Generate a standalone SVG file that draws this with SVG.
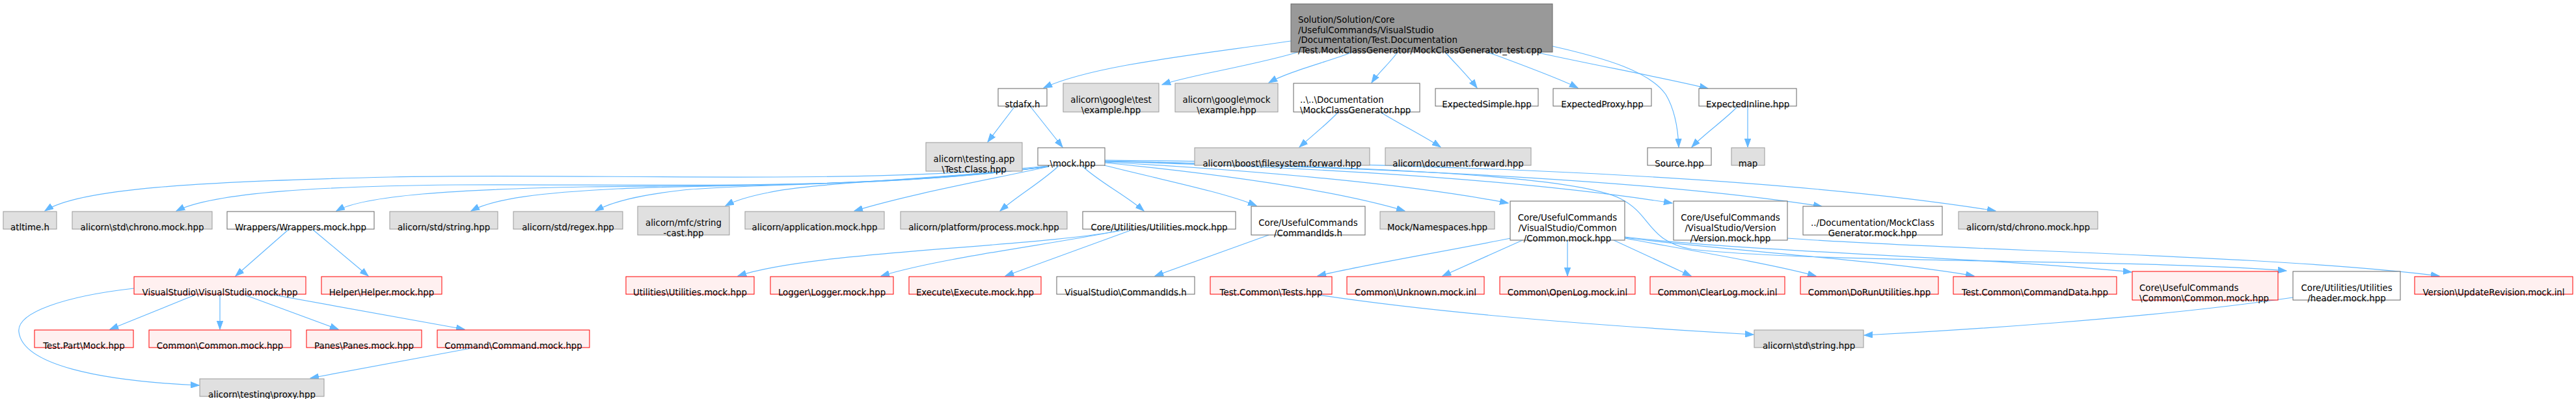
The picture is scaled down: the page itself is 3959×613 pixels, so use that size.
<svg xmlns="http://www.w3.org/2000/svg" width="3959" height="613" viewBox="0 0 3959 613">
<style>
.w rect{fill:#ffffff;stroke:#666666;stroke-width:1}
.g rect{fill:#e0e0e0;stroke:#999999;stroke-width:1}
.r rect{fill:#fff0f0;stroke:#ff0000;stroke-width:1}
.k rect{fill:#999999;stroke:#666666;stroke-width:1}
text{font-family:"DejaVu Sans","Liberation Sans",sans-serif;font-size:13.33px;fill:#000000}
.m text{text-anchor:middle}
.l text{text-anchor:start}
#edges path{fill:none;stroke:#63b8ff;stroke-width:1.2;marker-end:url(#ah)}
</style>
<defs>
<marker id="ah" markerWidth="14" markerHeight="10" refX="13" refY="5" orient="auto" markerUnits="userSpaceOnUse">
<path d="M0,0.3 L13,5 L0,9.7 z" fill="#63b8ff" stroke="#63b8ff" stroke-width="1"/>
</marker>
</defs>
<rect width="3959" height="613" fill="#ffffff"/>
<g id="edges">
<path d="M1984,63 C1840,84 1680,100 1604,135"/>
<path d="M1995,80 C1930,100 1830,115 1786,130"/>
<path d="M2079,80 C2040,95 1980,110 1950,127"/>
<path d="M2148,80 C2135,98 2118,112 2108,127"/>
<path d="M2221,80 C2237,98 2257,118 2270,135"/>
<path d="M2286,80 C2340,100 2395,120 2425,135"/>
<path d="M2364,81 C2450,100 2560,120 2625,136"/>
<path d="M2386,71 C2470,90 2535,110 2560,145 C2575,170 2579,200 2580,226"/>
<path d="M2671,163 C2650,185 2620,205 2600,226"/>
<path d="M2686,163 L2686,226"/>
<path d="M2057,172 C2040,190 2015,210 1997,226"/>
<path d="M2121,172 C2150,190 2190,210 2214,226"/>
<path d="M1560,163 L1518,218"/>
<path d="M1583,163 L1633,226"/>
<path d="M1610,255 C1300,285 900,265 600,272 C300,279 120,290 69,324"/>
<path d="M1610,256 C1300,295 1000,282 700,284 C500,286 330,295 271,324"/>
<path d="M1610,256 C1300,292 1050,284 900,287 C700,291 560,300 517,324"/>
<path d="M1610,256 C1350,290 1100,282 950,290 C830,296 760,305 724,324"/>
<path d="M1610,256 C1400,285 1150,282 1050,292 C980,300 940,310 915,324"/>
<path d="M1612,256 C1450,275 1250,280 1180,296 C1150,302 1130,308 1115,316"/>
<path d="M1612,256 C1500,280 1400,298 1313,324"/>
<path d="M1627,255 C1600,280 1565,300 1537,324"/>
<path d="M1663,255 C1690,280 1730,300 1758,324"/>
<path d="M1697,254 C1780,275 1880,295 1931,316"/>
<path d="M1698,250 C1900,270 2060,295 2159,324"/>
<path d="M1698,249 C1900,260 2150,280 2318,312"/>
<path d="M1698,248 C1950,255 2300,270 2570,312"/>
<path d="M1698,247 C2000,255 2500,270 2800,317"/>
<path d="M1698,246 C2100,250 2700,265 3067,324"/>
<path d="M1698,248 C2100,255 2420,270 2490,305 C2540,330 2530,370 2600,383 C2800,405 3300,398 3514,416"/>
<path d="M2322,366 C2200,390 2080,410 2025,424"/>
<path d="M2340,369 L2217,424"/>
<path d="M2409,369 L2409,424"/>
<path d="M2480,369 L2599,424"/>
<path d="M2497,366 C2600,385 2720,405 2791,424"/>
<path d="M2497,365 C2650,385 2900,400 3034,424"/>
<path d="M2497,364 C2700,388 3050,395 3276,418"/>
<path d="M2747,366 C3000,385 3500,392 3749,424"/>
<path d="M2019,452 C2200,480 2450,500 2695,514"/>
<path d="M3524,457 C3300,490 3000,508 2865,515"/>
<path d="M1728,353 C1600,380 1250,385 1134,424"/>
<path d="M1722,354 C1620,375 1450,395 1354,424"/>
<path d="M1740,353 L1545,424"/>
<path d="M1950,361 L1775,424"/>
<path d="M443,353 L362,424"/>
<path d="M481,353 L566,424"/>
<path d="M300,453 L169,506"/>
<path d="M338,453 L338,506"/>
<path d="M376,453 L520,506"/>
<path d="M415,452 L714,506"/>
<path d="M206,443 C100,455 25,480 29,510 C35,560 150,585 306,592"/>
<path d="M724,535 L477,581"/>
</g>
<g id="n_root" class="k l"><rect x="1984" y="6" width="402" height="74"/><text><tspan x="1995" y="35">Solution/Solution/Core</tspan><tspan x="1995" y="50.7">/UsefulCommands/VisualStudio</tspan><tspan x="1995" y="66.4">/Documentation/Test.Documentation</tspan><tspan x="1995" y="82">/Test.MockClassGenerator/MockClassGenerator_test.cpp</tspan></text></g>
<g id="n_stdafx" class="w m"><rect x="1534" y="136" width="75" height="27"/><text x="1571.5" y="165">stdafx.h</text></g>
<g id="n_gtest" class="g m"><rect x="1634" y="128" width="147" height="44"/><text><tspan x="1707.5" y="158">alicorn\google\test</tspan><tspan x="1707.5" y="174">\example.hpp</tspan></text></g>
<g id="n_gmock" class="g m"><rect x="1806" y="128" width="158" height="44"/><text><tspan x="1885" y="158">alicorn\google\mock</tspan><tspan x="1885" y="174">\example.hpp</tspan></text></g>
<g id="n_mcg" class="w l"><rect x="1988" y="128" width="194" height="44"/><text><tspan x="1998" y="158">..\..\Documentation</tspan><tspan x="1998" y="174">\MockClassGenerator.hpp</tspan></text></g>
<g id="n_expsimple" class="w m"><rect x="2206" y="136" width="158" height="27"/><text x="2285" y="165">ExpectedSimple.hpp</text></g>
<g id="n_expproxy" class="w m"><rect x="2387" y="136" width="151" height="27"/><text x="2462.5" y="165">ExpectedProxy.hpp</text></g>
<g id="n_expinline" class="w m"><rect x="2611" y="136" width="150" height="27"/><text x="2686" y="165">ExpectedInline.hpp</text></g>
<g id="n_testclass" class="g m"><rect x="1423" y="219" width="148" height="44"/><text><tspan x="1497" y="249">alicorn\testing.app</tspan><tspan x="1497" y="265">\Test.Class.hpp</tspan></text></g>
<g id="n_mock" class="w m"><rect x="1595" y="227" width="103" height="27"/><text x="1646.5" y="256">.\mock.hpp</text></g>
<g id="n_fsfwd" class="g m"><rect x="1836" y="227" width="269" height="27"/><text x="1970.5" y="256">alicorn\boost\filesystem.forward.hpp</text></g>
<g id="n_docfwd" class="g m"><rect x="2129" y="227" width="224" height="27"/><text x="2241" y="256">alicorn\document.forward.hpp</text></g>
<g id="n_source" class="w m"><rect x="2532" y="227" width="98" height="27"/><text x="2581" y="256">Source.hpp</text></g>
<g id="n_map" class="g m"><rect x="2661" y="227" width="51" height="27"/><text x="2686.5" y="256">map</text></g>
<g id="n_atltime" class="g m"><rect x="5" y="325" width="82" height="27"/><text x="46" y="354">atltime.h</text></g>
<g id="n_chronol" class="g m"><rect x="111" y="325" width="215" height="27"/><text x="218.5" y="354">alicorn\std\chrono.mock.hpp</text></g>
<g id="n_wrappers" class="w m"><rect x="349" y="325" width="226" height="27"/><text x="462" y="354">Wrappers/Wrappers.mock.hpp</text></g>
<g id="n_stdstring" class="g m"><rect x="599" y="325" width="166" height="27"/><text x="682" y="354">alicorn/std/string.hpp</text></g>
<g id="n_regex" class="g m"><rect x="789" y="325" width="168" height="27"/><text x="873" y="354">alicorn/std/regex.hpp</text></g>
<g id="n_mfc" class="g m"><rect x="980" y="317" width="141" height="44"/><text><tspan x="1050.5" y="347">alicorn/mfc/string</tspan><tspan x="1050.5" y="363">-cast.hpp</tspan></text></g>
<g id="n_app" class="g m"><rect x="1145" y="325" width="214" height="27"/><text x="1252" y="354">alicorn/application.mock.hpp</text></g>
<g id="n_process" class="g m"><rect x="1384" y="325" width="256" height="27"/><text x="1512" y="354">alicorn/platform/process.mock.hpp</text></g>
<g id="n_utilmock" class="w m"><rect x="1664" y="325" width="235" height="27"/><text x="1781.5" y="354">Core/Utilities/Utilities.mock.hpp</text></g>
<g id="n_cmdids" class="w m"><rect x="1923" y="317" width="175" height="44"/><text><tspan x="2010.5" y="347">Core/UsefulCommands</tspan><tspan x="2010.5" y="363">/CommandIds.h</tspan></text></g>
<g id="n_ns" class="g m"><rect x="2121" y="325" width="176" height="27"/><text x="2209" y="354">Mock/Namespaces.hpp</text></g>
<g id="n_common" class="w m"><rect x="2321" y="309" width="176" height="60"/><text><tspan x="2409" y="339">Core/UsefulCommands</tspan><tspan x="2409" y="355">/VisualStudio/Common</tspan><tspan x="2409" y="371">/Common.mock.hpp</tspan></text></g>
<g id="n_version" class="w m"><rect x="2572" y="309" width="175" height="60"/><text><tspan x="2659.5" y="339">Core/UsefulCommands</tspan><tspan x="2659.5" y="355">/VisualStudio/Version</tspan><tspan x="2659.5" y="371">/Version.mock.hpp</tspan></text></g>
<g id="n_mcgmock" class="w m"><rect x="2771" y="317" width="214" height="44"/><text><tspan x="2878" y="347">../Documentation/MockClass</tspan><tspan x="2878" y="363">Generator.mock.hpp</tspan></text></g>
<g id="n_chronor" class="g m"><rect x="3010" y="325" width="214" height="27"/><text x="3117" y="354">alicorn/std/chrono.mock.hpp</text></g>
<g id="n_vs" class="r m"><rect x="206" y="425" width="264" height="27"/><text x="338" y="454">VisualStudio\VisualStudio.mock.hpp</text></g>
<g id="n_helper" class="r m"><rect x="494" y="425" width="185" height="27"/><text x="586.5" y="454">Helper\Helper.mock.hpp</text></g>
<g id="n_utilu" class="r m"><rect x="962" y="425" width="197" height="27"/><text x="1060.5" y="454">Utilities\Utilities.mock.hpp</text></g>
<g id="n_logger" class="r m"><rect x="1184" y="425" width="189" height="27"/><text x="1278.5" y="454">Logger\Logger.mock.hpp</text></g>
<g id="n_execute" class="r m"><rect x="1397" y="425" width="203" height="27"/><text x="1498.5" y="454">Execute\Execute.mock.hpp</text></g>
<g id="n_vscmdids" class="w m"><rect x="1624" y="425" width="212" height="27"/><text x="1730" y="454">VisualStudio\CommandIds.h</text></g>
<g id="n_tests" class="r m"><rect x="1860" y="425" width="187" height="27"/><text x="1953.5" y="454">Test.Common\Tests.hpp</text></g>
<g id="n_unknown" class="r m"><rect x="2070" y="425" width="211" height="27"/><text x="2175.5" y="454">Common\Unknown.mock.inl</text></g>
<g id="n_openlog" class="r m"><rect x="2305" y="425" width="208" height="27"/><text x="2409" y="454">Common\OpenLog.mock.inl</text></g>
<g id="n_clearlog" class="r m"><rect x="2536" y="425" width="207" height="27"/><text x="2639.5" y="454">Common\ClearLog.mock.inl</text></g>
<g id="n_dorun" class="r m"><rect x="2767" y="425" width="212" height="27"/><text x="2873" y="454">Common\DoRunUtilities.hpp</text></g>
<g id="n_cmddata" class="r m"><rect x="3002" y="425" width="251" height="27"/><text x="3127.5" y="454">Test.Common\CommandData.hpp</text></g>
<g id="n_uccommon" class="r l"><rect x="3277" y="417" width="224" height="44"/><text><tspan x="3288" y="447">Core\UsefulCommands</tspan><tspan x="3288" y="463">\Common\Common.mock.hpp</tspan></text></g>
<g id="n_header" class="w m"><rect x="3524" y="417" width="165" height="44"/><text><tspan x="3606.5" y="447">Core/Utilities/Utilities</tspan><tspan x="3606.5" y="463">/header.mock.hpp</tspan></text></g>
<g id="n_updrev" class="r m"><rect x="3711" y="425" width="243" height="27"/><text x="3832.5" y="454">Version\UpdateRevision.mock.inl</text></g>
<g id="n_testpart" class="r m"><rect x="53" y="507" width="152" height="27"/><text x="129" y="536">Test.Part\Mock.hpp</text></g>
<g id="n_vscommon" class="r m"><rect x="229" y="507" width="218" height="27"/><text x="338" y="536">Common\Common.mock.hpp</text></g>
<g id="n_panes" class="r m"><rect x="471" y="507" width="177" height="27"/><text x="559.5" y="536">Panes\Panes.mock.hpp</text></g>
<g id="n_command" class="r m"><rect x="672" y="507" width="234" height="27"/><text x="789" y="536">Command\Command.mock.hpp</text></g>
<g id="n_altstring" class="g m"><rect x="2696" y="507" width="168" height="27"/><text x="2780" y="536">alicorn\std\string.hpp</text></g>
<g id="n_proxy" class="g m"><rect x="307" y="582" width="191" height="27"/><text x="402.5" y="611">alicorn\testing\proxy.hpp</text></g>
</svg>
